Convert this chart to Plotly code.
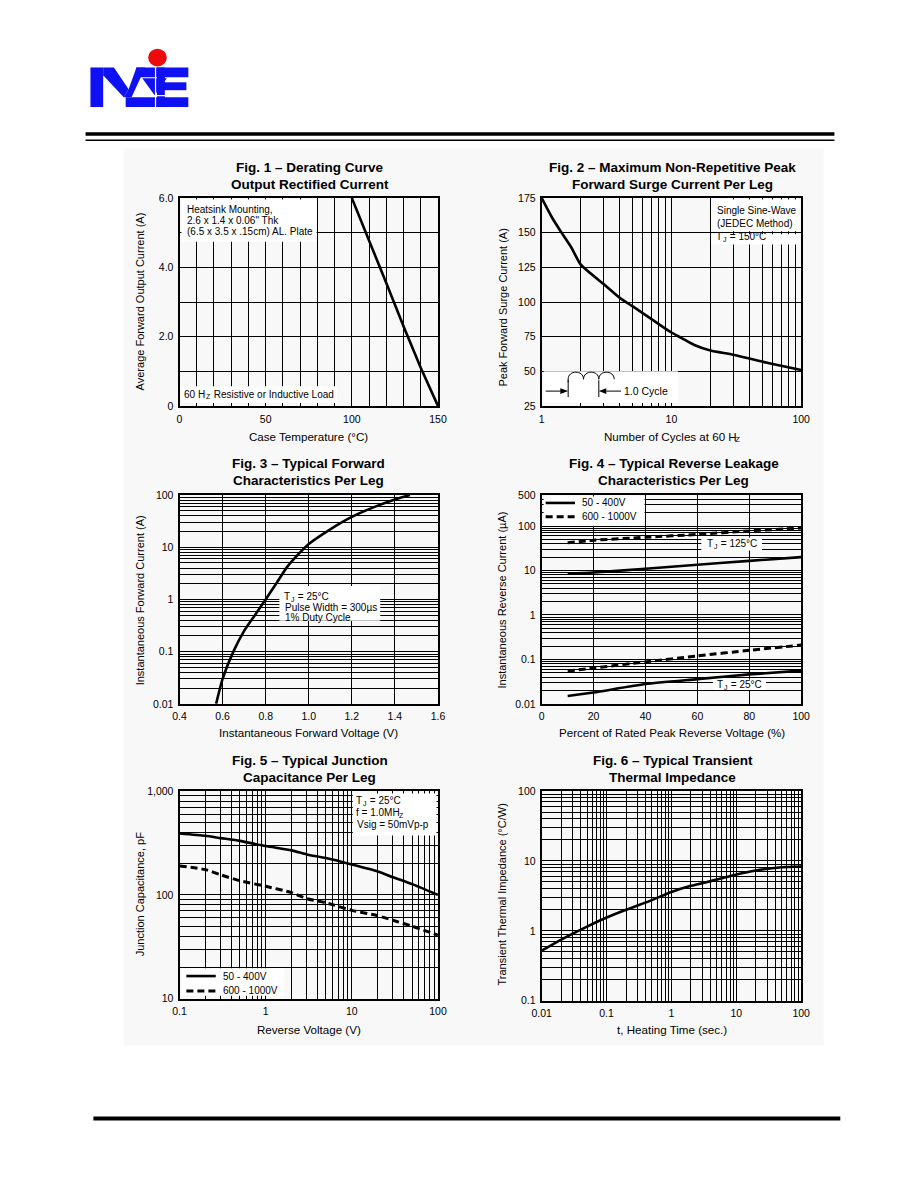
import numpy as np
import plotly.graph_objects as go

# page is 918x1188; the browser keeps an 8px body margin, so the figure itself is 902x1172
PAGE_W, PAGE_H = 918, 1188
MARGIN = 8
W, H = PAGE_W - 2 * MARGIN, PAGE_H - 2 * MARGIN
FONT = "Liberation Sans"

# ---------------- data ----------------
fig1_temp = [100, 105, 110, 120, 130, 140, 150]
fig1_current = [6.0, 5.4, 4.75, 3.55, 2.3, 1.1, 0.0]

fig2_cycles = [1, 1.2, 1.4, 1.7, 2, 3, 4, 5, 6, 8, 10, 12, 15, 20, 30, 50, 70, 100]
fig2_current = [175, 161, 151, 139, 127, 113, 103, 97, 92, 84, 78, 74, 69, 65, 62, 57, 54, 51]

fig3_voltage = [0.57, 0.6, 0.65, 0.7, 0.75, 0.8, 0.85, 0.9, 0.95, 1.0, 1.1, 1.2, 1.3, 1.4, 1.47]
fig3_current = [0.01, 0.03, 0.1, 0.25, 0.5, 1.0, 2.05, 4.2, 7.2, 11.5, 22, 38, 58, 82, 100]

fig4_percent = [10, 20, 40, 60, 80, 100]
fig4_low_125 = [8.5, 9.0, 11.0, 13.5, 16.5, 20.0]
fig4_high_125 = [42, 48, 56, 65, 78, 90]
fig4_high_25 = [0.055, 0.064, 0.088, 0.12, 0.16, 0.21]
fig4_low_25 = [0.015, 0.018, 0.028, 0.036, 0.046, 0.056]

fig5_voltage = [0.1, 0.2, 0.3, 0.5, 1, 2, 3, 5, 10, 20, 30, 50, 100]
fig5_low = [390, 370, 352, 331, 295, 268, 245, 226, 196, 168, 148, 127, 100]
fig5_high = [190, 175, 156, 137, 121, 105, 92, 84, 71, 63, 57, 50, 41]

fig6_time = [0.01, 0.02, 0.05, 0.1, 0.2, 0.5, 1, 2, 5, 10, 20, 50, 100]
fig6_impedance = [0.52, 0.75, 1.15, 1.55, 2.0, 2.75, 3.6, 4.4, 5.4, 6.4, 7.3, 8.1, 8.3]

fig1_xtick_vals = [0, 50, 100, 150]
fig1_xtick_text = ["0", "50", "100", "150"]
fig1_ytick_vals = [0, 2, 4, 6]
fig1_ytick_text = ["0", "2.0", "4.0", "6.0"]
fig2_xtick_vals = [1, 10, 100]
fig2_xtick_text = ["1", "10", "100"]
fig2_ytick_vals = [25, 50, 75, 100, 125, 150, 175]
fig2_ytick_text = ["25", "50", "75", "100", "125", "150", "175"]
fig3_xtick_vals = [0.4, 0.6, 0.8, 1.0, 1.2, 1.4, 1.6]
fig3_xtick_text = ["0.4", "0.6", "0.8", "1.0", "1.2", "1.4", "1.6"]
fig3_ytick_vals = [0.01, 0.1, 1, 10, 100]
fig3_ytick_text = ["0.01", "0.1", "1", "10", "100"]
fig4_xtick_vals = [0, 20, 40, 60, 80, 100]
fig4_xtick_text = ["0", "20", "40", "60", "80", "100"]
fig4_ytick_vals = [0.01, 0.1, 1, 10, 100, 500]
fig4_ytick_text = ["0.01", "0.1", "1", "10", "100", "500"]
fig5_xtick_vals = [0.1, 1, 10, 100]
fig5_xtick_text = ["0.1", "1", "10", "100"]
fig5_ytick_vals = [10, 100, 1000]
fig5_ytick_text = ["10", "100", "1,000"]
fig6_xtick_vals = [0.01, 0.1, 1, 10, 100]
fig6_xtick_text = ["0.01", "0.1", "1", "10", "100"]
fig6_ytick_vals = [0.1, 1, 10, 100]
fig6_ytick_text = ["0.1", "1", "10", "100"]

# ---------------- helpers ----------------
def px(x):
    return (x - MARGIN) / W


def py(y):
    return 1 - (y - MARGIN) / H


# plot areas in page pixels: x0, y0(top), x1, y1(bottom)
PLOT_BOX = {
    1: (173, 194, 437, 404),
    2: (543, 194, 808, 404),
    3: (173, 494, 437, 705),
    4: (543, 494, 808, 705),
    5: (173, 793, 437, 1003),
    6: (543, 793, 808, 1005),
}


def lin_grid(lo, hi, step):
    return [float(v) for v in np.round(np.arange(lo, hi + step / 2, step), 6)]


def log_grid(lo, hi):
    vals = []
    e = int(np.floor(np.log10(lo) + 1e-9))
    while True:
        for m in range(1, 10):
            v = float(f"{m * 10.0 ** e:.10g}")
            if v < lo * (1 - 1e-9):
                continue
            if v > hi * (1 + 1e-9):
                return vals
            vals.append(v)
        e += 1


def make_axis(k, horizontal, rng, grid, lab_vals, lab_text, log=False):
    x0, y0, x1, y1 = PLOT_BOX[k]
    if horizontal:
        domain = [px(x0), px(x1)]
    else:
        domain = [py(y1), py(y0)]
    suffix = "" if k == 1 else str(k)
    return dict(
        domain=domain,
        range=[np.log10(rng[0]), np.log10(rng[1])] if log else rng,
        type="log" if log else "linear",
        tickmode="array", tickvals=lab_vals, ticktext=lab_text,
        showgrid=True, gridcolor="#000", gridwidth=1,
        minor=dict(tickmode="array", tickvals=grid, showgrid=True, gridcolor="#000",
                   gridwidth=1, ticks="inside", ticklen=3, tickcolor="#000", tickwidth=1),
        showline=True, linecolor="#000", linewidth=2, mirror=True,
        ticks="inside", ticklen=3, tickcolor="#000", tickwidth=1,
        zeroline=False, fixedrange=True,
        tickfont=dict(family=FONT, size=10.5, color="#000"),
        anchor=("y" if horizontal else "x") + suffix,
        ticklabelstandoff=2,
    )


fig = go.Figure()

line_style = dict(color="#000", width=2.6)
dash_style = dict(color="#000", width=3, dash="7px,4px")


def add_line(k, x, y, style, shape="spline"):
    suffix = "" if k == 1 else str(k)
    ls = dict(**style, shape=shape, smoothing=0.6) if shape == "spline" else dict(**style)
    fig.add_trace(go.Scatter(
        x=x, y=y, mode="lines", line=ls,
        xaxis="x" + suffix, yaxis="y" + suffix, showlegend=False, hoverinfo="skip"))


add_line(1, fig1_temp, fig1_current, line_style, shape="linear")
add_line(2, fig2_cycles, fig2_current, line_style)
add_line(3, fig3_voltage, fig3_current, line_style)
add_line(4, fig4_percent, fig4_low_125, line_style)
add_line(4, fig4_percent, fig4_high_125, dash_style)
add_line(4, fig4_percent, fig4_high_25, dash_style)
add_line(4, fig4_percent, fig4_low_25, line_style)
add_line(5, fig5_voltage, fig5_low, line_style)
add_line(5, fig5_voltage, fig5_high, dash_style)
add_line(6, fig6_time, fig6_impedance, line_style)

layout_axes = {
    "xaxis": make_axis(1, True, [0, 150], lin_grid(0, 150, 10), fig1_xtick_vals, fig1_xtick_text),
    "yaxis": make_axis(1, False, [0, 6], lin_grid(0, 6, 1), fig1_ytick_vals, fig1_ytick_text),
    "xaxis2": make_axis(2, True, [1, 100], log_grid(1, 100), fig2_xtick_vals, fig2_xtick_text, log=True),
    "yaxis2": make_axis(2, False, [25, 175], lin_grid(25, 175, 25), fig2_ytick_vals, fig2_ytick_text),
    "xaxis3": make_axis(3, True, [0.4, 1.6], lin_grid(0.4, 1.6, 0.2), fig3_xtick_vals, fig3_xtick_text),
    "yaxis3": make_axis(3, False, [0.01, 100], log_grid(0.01, 100), fig3_ytick_vals, fig3_ytick_text, log=True),
    "xaxis4": make_axis(4, True, [0, 100], lin_grid(0, 100, 20), fig4_xtick_vals, fig4_xtick_text),
    "yaxis4": make_axis(4, False, [0.01, 500], log_grid(0.01, 500), fig4_ytick_vals, fig4_ytick_text, log=True),
    "xaxis5": make_axis(5, True, [0.1, 100], log_grid(0.1, 100), fig5_xtick_vals, fig5_xtick_text, log=True),
    "yaxis5": make_axis(5, False, [10, 1000], log_grid(10, 1000), fig5_ytick_vals, fig5_ytick_text, log=True),
    "xaxis6": make_axis(6, True, [0.01, 100], log_grid(0.01, 100), fig6_xtick_vals, fig6_xtick_text, log=True),
    "yaxis6": make_axis(6, False, [0.1, 100], log_grid(0.1, 100), fig6_ytick_vals, fig6_ytick_text, log=True),
}

shapes = []
annotations = []

# faint page background behind the figure block
shapes.append(dict(type="rect", xref="paper", yref="paper", layer="below",
                   x0=px(116), x1=px(831), y0=py(1050), y1=py(144),
                   fillcolor="#f8f8f8", line=dict(width=0)))


def white_box(x0, y0, x1, y1):
    shapes.append(dict(
        type="rect", xref="paper", yref="paper", layer="above",
        x0=px(x0), x1=px(x1), y0=py(y1), y1=py(y0),
        fillcolor="#fff", line=dict(width=0)))


white_box(175, 195.5, 313, 238)
white_box(175, 384, 334, 401)
white_box(716, 195.5, 806.5, 227.5)
white_box(716, 230.5, 806.5, 241)
white_box(545, 369, 682, 401)
white_box(275, 586, 378, 621)
white_box(545, 495.5, 648, 525)
white_box(706, 537, 768, 550)
white_box(718, 680.5, 772, 691)
white_box(350, 795.5, 435.5, 838)
white_box(175, 972, 280, 1000)


def pline(x0, y0, x1, y1, width=1.0, dash="solid", color="#000"):
    shapes.append(dict(type="line", xref="paper", yref="paper", layer="above",
                       x0=px(x0), y0=py(y0), x1=px(x1), y1=py(y1),
                       line=dict(color=color, width=width, dash=dash)))


def ppath(points, fill="#000"):
    d = "M " + " L ".join(f"{px(a):.5f},{py(b):.5f}" for a, b in points) + " Z"
    shapes.append(dict(type="path", xref="paper", yref="paper", layer="above", path=d,
                       fillcolor=fill, line=dict(color=fill, width=0)))


def text(t, x, y, size=10, anchor="left", bold=False, angle=0, pad=1):
    annotations.append(dict(
        text=f"<b>{t}</b>" if bold else t, x=px(x), y=py(y), xref="paper", yref="paper",
        showarrow=False, xanchor=anchor, yanchor="middle", textangle=angle,
        borderpad=pad, borderwidth=0,
        font=dict(family=FONT, size=size, color="#000")))


# Arial / Liberation Sans advance widths (per 1000 em)
ADV = {" ": 278, ".": 278, "=": 584, "°": 400, "C": 722, "T": 611, "J": 500, "H": 722,
       "Z": 611, "f": 278, "M": 833, "N": 722, "m": 833, "r": 333, "l": 222, "t": 278,
       "c": 500, "s": 500, "y": 500, "v": 500, "i": 222, "I": 278, "R": 722, "L": 556,
       "j": 222}


def twidth(s, size):
    return sum(ADV.get(ch, 556) for ch in s) * size / 1000.0


def text_sub(pre, sub, post, x, y, size=10, anchor="left"):
    """Text with a subscript part, laid out as three pieces."""
    ssize = size * 0.7
    gap = 1.0
    total = twidth(pre, size) + gap + twidth(sub, ssize) + (gap + twidth(post, size) if post else 0)
    x0 = x - total / 2 if anchor == "center" else x
    text(pre, x0, y, size=size, pad=0)
    x1 = x0 + twidth(pre, size) + gap
    text(sub, x1, y + size * 0.28, size=ssize, pad=0)
    if post:
        text(post, x1 + twidth(sub, ssize) + gap * 0.5, y, size=size, pad=0)


# legends (manual)
pline(547, 502, 577, 502, width=2.6)
pline(547, 516, 577, 516, width=3, dash="7px,4px")
text("50 - 400V", 583, 502)
text("600 - 1000V", 583, 516)
pline(180, 980, 210, 980, width=2.6)
pline(180, 995, 210, 995, width=3, dash="7px,4px")
text("50 - 400V", 216, 980)
text("600 - 1000V", 216, 995)

# Fig. 2 inset: half-sine pulses and cycle marker
hump_x = [570, 585.7, 601.3, 617]
hump_path = f"M {px(hump_x[0]):.5f},{py(380):.5f} "
for a, b in zip(hump_x[:-1], hump_x[1:]):
    hump_path += (f"L {px(a):.5f},{py(377):.5f} C {px(a):.5f},{py(367.5):.5f} "
                  f"{px(b):.5f},{py(367.5):.5f} {px(b):.5f},{py(377):.5f} ")
shapes.append(dict(type="path", xref="paper", yref="paper", layer="above", path=hump_path,
                   line=dict(color="#000", width=1)))
pline(570, 378, 570, 395, width=1)
pline(601.3, 378, 601.3, 395, width=1)
pline(547, 389, 563, 389, width=1)
ppath([(562, 386), (570, 389), (562, 392)])
ppath([(601.3, 389), (609, 386), (609, 392)])
pline(609, 389, 624, 389, width=1)
text("1.0 Cycle", 626, 389, size=10.5)

# titles
titles = [
    ("Fig. 1 – Derating Curve", "Output Rectified Current", 306, 163),
    ("Fig. 2 – Maximum Non-Repetitive Peak", "Forward Surge Current Per Leg", 677, 163),
    ("Fig. 3 – Typical Forward", "Characteristics Per Leg", 305, 462),
    ("Fig. 4 – Typical Reverse Leakage", "Characteristics Per Leg", 678, 462),
    ("Fig. 5 – Typical Junction", "Capacitance Per Leg", 306, 762),
    ("Fig. 6 – Typical Transient", "Thermal Impedance", 677, 762),
]
for l1, l2, x, y in titles:
    text(l1, x, y, size=13.5, anchor="center", bold=True)
    text(l2, x, y + 17, size=13.5, anchor="center", bold=True)

# axis titles
text("Case Temperature (°C)", 305, 435, size=11.6, anchor="center")
text_sub("Number of Cycles at 60 H", "Z", "", 676, 435, size=11.6, anchor="center")
text("Instantaneous Forward Voltage (V)", 305, 734, size=11.6, anchor="center")
text("Percent of Rated Peak Reverse Voltage (%)", 676, 734, size=11.6, anchor="center")
text("Reverse Voltage (V)", 305, 1034, size=11.6, anchor="center")
text("t, Heating Time (sec.)", 676, 1034, size=11.6, anchor="center")

text("Average Forward Output Current (A)", 133, 298, size=11, anchor="center", angle=-90)
text("Peak Forward Surge Current (A)", 503, 305, size=11, anchor="center", angle=-90)
text("Instantaneous Forward Current (A)", 133, 600, size=11, anchor="center", angle=-90)
text("Instantaneous Reverse Current (µA)", 502, 600, size=11, anchor="center", angle=-90)
text("Junction Capacitance, pF", 133, 897, size=11, anchor="center", angle=-90)
text("Transient Thermal Impedance (°C/W)", 502, 898, size=11, anchor="center", angle=-90)

# in-plot notes
text("Heatsink Mounting,", 180, 206)
text("2.6 x 1.4 x 0.06\" Thk", 180, 217)
text("(6.5 x 3.5 x .15cm) AL. Plate", 180, 228)
text_sub("60 H", "Z", " Resistive or Inductive Load", 178, 392)
text("Single Sine-Wave", 721, 207)
text("(JEDEC Method)", 721, 220)
text_sub("T", "J", " = 150°C", 721, 233)
text_sub("T", "J", " = 25°C", 280, 597)
text("Pulse Width = 300µs", 280, 607.5)
text("1% Duty Cycle", 280, 618)
text_sub("T", "J", " = 125°C", 737, 543, anchor="center")
text_sub("T", "J", " = 25°C", 745, 685.5, anchor="center")
text_sub("T", "J", " = 25°C", 353, 803)
text_sub("f = 1.0MH", "Z", "", 353, 815)
text("Vsig = 50mVp-p", 353, 827)

# header / footer rules
ppath([(77, 127.5), (842, 127.5), (842, 131), (77, 131)])
pline(77, 135.5, 842, 135.5, width=1.5)
ppath([(85, 1122), (848, 1122), (848, 1126), (85, 1126)])

# logo
BLUE = "#1010f5"
shapes.append(dict(type="circle", xref="paper", yref="paper", layer="above",
                   x0=px(141), x1=px(160), y0=py(61), y1=py(43), fillcolor="#ee0a0a",
                   line=dict(width=0)))
ppath([(82, 62), (95, 62), (95, 102), (82, 102)], fill=BLUE)
ppath([(95, 62), (106, 62), (121, 84), (116, 92), (95, 70)], fill=BLUE)
ppath([(116, 92), (121, 84), (129, 62), (138, 62), (124, 92)], fill=BLUE)
ppath([(129, 62), (182, 62), (182, 72), (129, 72)], fill=BLUE)
ppath([(135, 73), (160, 73), (147.5, 90)], fill=BLUE)
ppath([(118, 92), (182, 92), (182, 102), (118, 102)], fill=BLUE)
ppath([(150, 62), (158, 62), (158, 102), (150, 102)], fill=BLUE)
ppath([(157, 77), (180, 77), (180, 85), (157, 85)], fill=BLUE)
pline(148.5, 62, 148.5, 102, width=1.2, color="#fff")
pline(135, 90.5, 160, 90.5, width=1.2, color="#fff")

fig.update_layout(
    width=W, height=H, margin=dict(l=0, r=0, t=0, b=0),
    paper_bgcolor="#fff", plot_bgcolor="#fff",
    showlegend=False, shapes=shapes, annotations=annotations,
    font=dict(family=FONT, color="#000"),
    **layout_axes,
)

fig.write_html("out.html", config={"displayModeBar": False})
